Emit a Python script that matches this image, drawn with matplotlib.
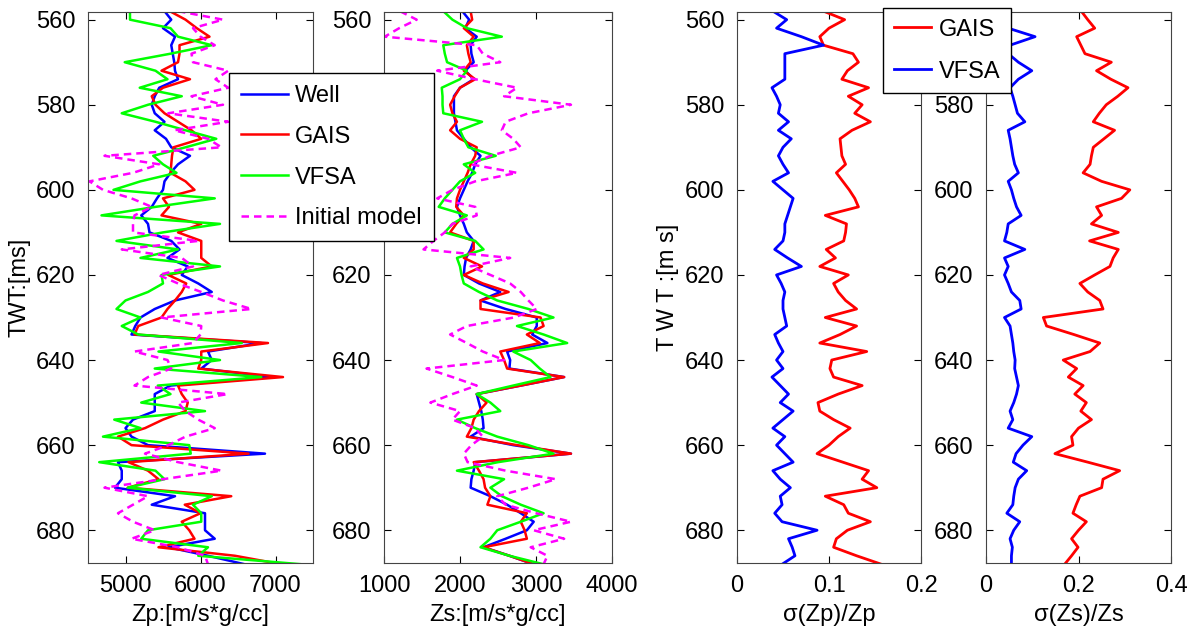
import matplotlib.pyplot as plt
import numpy as np

plt.rcParams['font.family'] = ['Liberation Sans', 'DejaVu Sans']

# two-way time, ms (2 ms sampling)
twt = np.arange(558, 690, 2)

zp_well = [5520, 5610, 5500, 5660, 5610, 5630, 5650, 5660, 5700, 5450,
           5390, 5350, 5390, 5520, 5390, 5540, 5610, 5860, 5700, 5600,
           5520, 5500, 5420, 5350, 5210, 5300, 5320, 5610, 5720, 5560,
           5830, 5750, 5970, 6150, 5660, 5390, 5200, 5130, 5080, 6810,
           6100, 6150, 6010, 6950, 5600, 5390, 5390, 5390, 5100, 5000,
           5080, 5300, 6860, 4900, 4950, 4950, 4860, 5660, 5350, 6060,
           6060, 6060, 6190, 5570, 6100, 6590]
zp_gais = [5590, 5800, 5950, 6120, 5720, 5720, 5700, 5480, 5860, 5500,
           5350, 5400, 5520, 5700, 5880, 6010, 5640, 5620, 5610, 5600,
           5800, 5920, 5500, 5580, 5480, 6010, 5700, 6010, 6010, 6010,
           6150, 5570, 5810, 5750, 5660, 5560, 5480, 5170, 5120, 6900,
           6010, 6010, 5970, 7100, 5700, 5750, 5830, 5800, 5500, 5260,
           4900, 5080, 6640, 5040, 5300, 5440, 5030, 6410, 5790, 6000,
           5750, 5850, 5920, 5440, 6460, 7080]
zp_vfsa = [5060, 5060, 5600, 5700, 6150, 5600, 4990, 5400, 5560, 5190,
           5750, 5300, 4950, 5400, 5800, 6210, 5800, 5370, 5500, 5680,
           5200, 4840, 6190, 5400, 4680, 6260, 5500, 4880, 5700, 5200,
           6260, 5480, 5500, 5300, 5000, 4880, 5200, 4950, 5170, 6550,
           5440, 6260, 5390, 6810, 5430, 5600, 5210, 6060, 4850, 5200,
           4700, 5850, 5870, 4650, 5400, 5520, 5030, 6150, 5900, 6010,
           6010, 5300, 5210, 6100, 5970, 7350]
zp_init = [5700, 6300, 5900, 6000, 6190, 5880, 5900, 6370, 6200, 6370,
           5880, 6300, 5570, 6370, 5650, 6100, 6280, 4720, 5450, 5100,
           4520, 4700, 5080, 5350, 5120, 5100, 5100, 5970, 4950, 5750,
           5900, 5440, 5700, 6010, 6300, 6680, 5480, 6010, 6000, 5900,
           5120, 5560, 5610, 5300, 5120, 6360, 5700, 5800, 5970, 6190,
           5800, 5570, 5260, 5700, 6280, 5500, 4720, 5300, 5100, 4900,
           5100, 5390, 5080, 5700, 6060, 6100]

zs_well = [2030, 2120, 2070, 2220, 2140, 2150, 2180, 2070, 2180, 2000,
           1920, 1920, 1920, 1940, 1960, 2050, 2140, 2270, 2200, 2160,
           2100, 2050, 2000, 1960, 2000, 2050, 2090, 2180, 2140, 2080,
           2060, 2050, 2250, 2530, 2270, 2600, 3010, 3010, 2950, 3150,
           2620, 2660, 2650, 3370, 2800, 2220, 2250, 2280, 2300, 2310,
           2140, 2700, 3460, 2200, 2180, 2150, 2140, 2400, 2620, 2800,
           2970, 2880, 2600, 2310, 2650, 2970]
zs_gais = [2140, 2160, 2050, 2180, 2090, 2110, 2140, 2050, 2200, 2000,
           1930, 1870, 1900, 1960, 1870, 2000, 2220, 2200, 2140, 2100,
           2050, 2000, 1960, 1950, 2050, 1950, 1870, 2180, 2180, 2050,
           2290, 2050, 2300, 2640, 2270, 2270, 3060, 3100, 2880, 3050,
           2530, 2580, 2620, 3370, 2800, 2220, 2350, 2250, 2180, 2150,
           2090, 2750, 3460, 2180, 2250, 2310, 2330, 2400, 2360, 2880,
           2800, 2850, 2880, 2310, 2650, 2970]
zs_vfsa = [1780, 1900, 2090, 2550, 1780, 1800, 1830, 2090, 2000, 1760,
           1770, 1770, 1780, 2290, 2000, 2050, 2110, 2470, 2050, 2200,
           2000, 1900, 1800, 1720, 2090, 1900, 1800, 2200, 2310, 1960,
           2000, 2020, 2050, 2250, 2490, 2900, 3230, 2750, 3100, 3410,
           2700, 2930, 3050, 3190, 2700, 2220, 2400, 2530, 1960, 2200,
           2490, 2900, 3230, 2500, 1960, 2580, 2400, 2550, 2800, 3100,
           2800, 2490, 2400, 2270, 2650, 3100]
zs_init = [1210, 1430, 1200, 1010, 2220, 2300, 2530, 1700, 2200, 2750,
           2580, 3460, 2900, 2600, 2550, 2700, 2800, 2400, 2140, 2750,
           2200, 1900, 1700, 2200, 2220, 1900, 1800, 1650, 1520, 2660,
           2140, 2400, 2660, 2800, 2900, 3010, 2710, 2090, 1870, 2090,
           2300, 2580, 1560, 1900, 2220, 1900, 1610, 2000, 1900, 2200,
           2300, 2150, 2050, 2100, 2600, 3260, 2900, 2490, 2600, 3000,
           3460, 2970, 3370, 2930, 3150, 3100]

# relative uncertainties
szp_gais = [0.094, 0.117, 0.100, 0.090, 0.094, 0.126, 0.132, 0.120, 0.114, 0.143,
            0.121, 0.136, 0.128, 0.145, 0.125, 0.112, 0.113, 0.114, 0.118, 0.108,
            0.115, 0.122, 0.128, 0.132, 0.096, 0.119, 0.118, 0.116, 0.097, 0.107,
            0.090, 0.121, 0.105, 0.110, 0.118, 0.130, 0.096, 0.130, 0.112, 0.090,
            0.141, 0.103, 0.101, 0.105, 0.136, 0.110, 0.088, 0.090, 0.105, 0.123,
            0.110, 0.100, 0.087, 0.115, 0.143, 0.136, 0.152, 0.096, 0.116, 0.121,
            0.145, 0.120, 0.108, 0.105, 0.130, 0.157]
szp_vfsa = [0.039, 0.054, 0.043, 0.070, 0.094, 0.052, 0.052, 0.052, 0.052, 0.038,
            0.043, 0.047, 0.045, 0.056, 0.045, 0.059, 0.050, 0.045, 0.050, 0.056,
            0.039, 0.050, 0.061, 0.058, 0.055, 0.052, 0.052, 0.050, 0.041, 0.055,
            0.070, 0.043, 0.048, 0.052, 0.050, 0.050, 0.052, 0.054, 0.041, 0.045,
            0.050, 0.043, 0.050, 0.038, 0.047, 0.056, 0.047, 0.061, 0.050, 0.039,
            0.052, 0.043, 0.052, 0.061, 0.039, 0.047, 0.058, 0.047, 0.049, 0.041,
            0.049, 0.087, 0.056, 0.060, 0.063, 0.049]
szs_gais = [0.206, 0.220, 0.235, 0.196, 0.205, 0.214, 0.271, 0.239, 0.270, 0.307,
            0.285, 0.260, 0.245, 0.232, 0.278, 0.255, 0.232, 0.228, 0.225, 0.210,
            0.250, 0.311, 0.293, 0.239, 0.250, 0.228, 0.286, 0.224, 0.286, 0.275,
            0.268, 0.235, 0.203, 0.220, 0.246, 0.253, 0.124, 0.131, 0.190, 0.246,
            0.225, 0.167, 0.196, 0.178, 0.210, 0.192, 0.217, 0.205, 0.228, 0.200,
            0.185, 0.188, 0.149, 0.220, 0.289, 0.253, 0.250, 0.203, 0.195, 0.188,
            0.217, 0.200, 0.185, 0.199, 0.185, 0.170]
szs_vfsa = [0.052, 0.050, 0.048, 0.106, 0.052, 0.048, 0.070, 0.099, 0.070, 0.052,
            0.058, 0.063, 0.068, 0.084, 0.048, 0.052, 0.055, 0.058, 0.062, 0.070,
            0.048, 0.055, 0.060, 0.066, 0.076, 0.048, 0.045, 0.040, 0.084, 0.040,
            0.048, 0.040, 0.048, 0.055, 0.073, 0.076, 0.040, 0.052, 0.055, 0.058,
            0.060, 0.063, 0.062, 0.066, 0.070, 0.066, 0.060, 0.052, 0.058, 0.048,
            0.099, 0.080, 0.065, 0.059, 0.088, 0.070, 0.063, 0.060, 0.058, 0.045,
            0.073, 0.060, 0.052, 0.057, 0.055, 0.055]

W, H = 1195, 642
fig = plt.figure(figsize=(W / 100, H / 100), dpi=100)


def box(x0, x1, y0=12, y1=563):
    return [x0 / W, 1 - y1 / H, (x1 - x0) / W, (y1 - y0) / H]


FS = 17


def style(ax, xlim, xticks, xlabels, xlabel):
    ax.set_ylim(687.7, 558.2)
    ax.set_yticks(np.arange(560, 690, 20))
    ax.set_xlim(*xlim)
    ax.set_xticks(xticks)
    ax.set_xticklabels(xlabels)
    ax.tick_params(direction='in', top=True, right=True, labelsize=FS,
                   length=5, pad=9)
    ax.set_xlabel(xlabel, fontsize=FS, labelpad=5)
    for s in ax.spines.values():
        s.set_color('#444444')


lw = 1.8
ax1 = fig.add_axes(box(88, 313))
ax1.plot(zp_well, twt, color='blue', lw=lw, label='Well')
ax1.plot(zp_gais, twt, color='red', lw=lw, label='GAIS')
ax1.plot(zp_vfsa, twt, color='#00ff00', lw=lw, label='VFSA')
ax1.plot(zp_init, twt, color='magenta', lw=lw, ls='--', dashes=(3, 2),
         label='Initial model')
style(ax1, (4500, 7500), [5000, 6000, 7000], ['5000', '6000', '7000'],
      'Zp:[m/s*g/cc]')
ax1.set_ylabel('TWT:[ms]', fontsize=FS, labelpad=4)

ax2 = fig.add_axes(box(384, 612))
ax2.plot(zs_well, twt, color='blue', lw=lw)
ax2.plot(zs_gais, twt, color='red', lw=lw)
ax2.plot(zs_vfsa, twt, color='#00ff00', lw=lw)
ax2.plot(zs_init, twt, color='magenta', lw=lw, ls='--', dashes=(3, 2))
style(ax2, (1000, 4000), [1000, 2000, 3000, 4000],
      ['1000', '2000', '3000', '4000'], 'Zs:[m/s*g/cc]')

ax3 = fig.add_axes(box(737, 921))
ax3.plot(szp_gais, twt, color='red', lw=2, label='GAIS')
ax3.plot(szp_vfsa, twt, color='blue', lw=2, label='VFSA')
style(ax3, (0, 0.2), [0, 0.1, 0.2], ['0', '0.1', '0.2'], 'σ(Zp)/Zp')
ax3.set_ylabel('T W T :[m s]', fontsize=FS, labelpad=4)

ax4 = fig.add_axes(box(986, 1171))
ax4.plot(szs_gais, twt, color='red', lw=2)
ax4.plot(szs_vfsa, twt, color='blue', lw=2)
style(ax4, (0, 0.4), [0, 0.2, 0.4], ['0', '0.2', '0.4'], 'σ(Zs)/Zs')

h, l = ax1.get_legend_handles_labels()
leg1 = fig.legend(h, l, loc='upper left', bbox_to_anchor=(229 / W, 1 - 73 / H),
                  fontsize=FS, fancybox=False, framealpha=1, edgecolor='black',
                  handlelength=2.0, handletextpad=0.3, labelspacing=0.8,
                  borderpad=0.5, borderaxespad=0)
leg1.get_frame().set_linewidth(1.0)

h, l = ax3.get_legend_handles_labels()
leg2 = fig.legend(h, l, loc='upper left', bbox_to_anchor=(883 / W, 1 - 8 / H),
                  fontsize=FS, fancybox=False, framealpha=1, edgecolor='black',
                  handlelength=1.6, handletextpad=0.3, labelspacing=0.85,
                  borderpad=0.45, borderaxespad=0)
leg2.get_frame().set_linewidth(1.0)

fig.savefig('out.png', dpi=100)
